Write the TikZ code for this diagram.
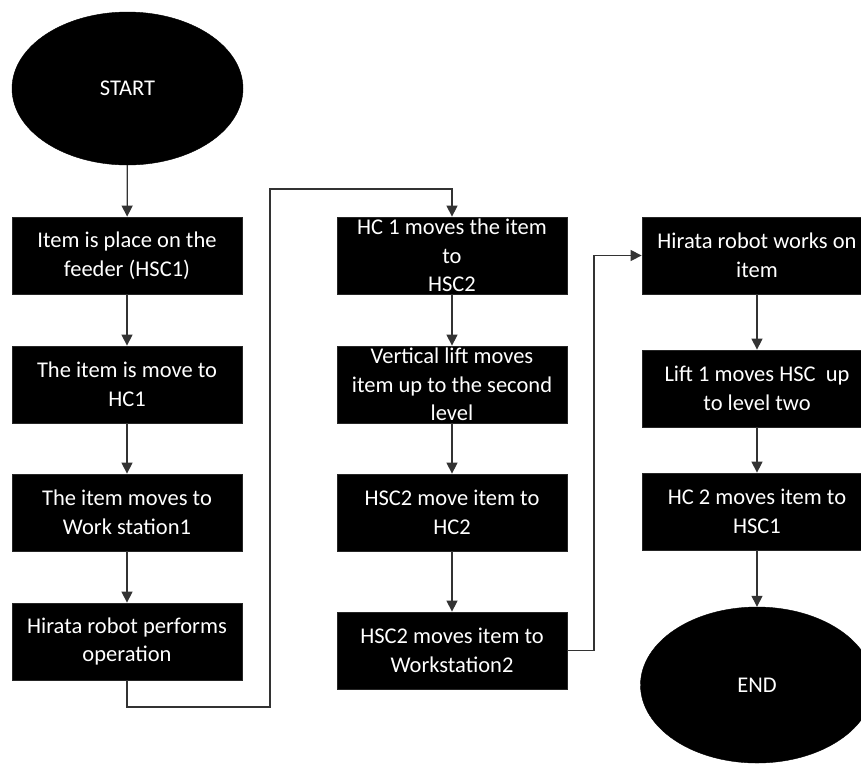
\documentclass[tikz,border=0pt]{standalone}
\usepackage{fontspec}
\setmainfont{Carlito}
\usetikzlibrary{shapes.geometric,arrows.meta}
\newcommand{\bxt}[1]{\parbox[c][77pt][c]{230pt}{\centering #1}}
\tikzset{
  flowbox/.style={rectangle, fill=black, draw=black!85, line width=0.8pt, inner sep=0pt, text=white},
  termnode/.style={ellipse, fill=black, draw=black, inner sep=0pt, text=white},
  conn/.style={draw=black!80, line width=1.3pt, -{Triangle[length=11pt,width=11pt]}},
  plainconn/.style={draw=black!80, line width=1.3pt}
}
\begin{document}
\begin{tikzpicture}[x=1pt,y=-1pt, font=\fontsize{22.5}{28.5}\selectfont]
\useasboundingbox (0,0) rectangle (861,764);
% left column
\node[termnode, minimum width=231pt, minimum height=153pt] (start) at (127.5,88.5) {START};
\node[flowbox] (b1) at (127,255.5) {\bxt{Item is place on the\\feeder (HSC1)}};
\node[flowbox] (b2) at (127,384.5) {\bxt{The item is move to\\HC1}};
\node[flowbox] (b3) at (127,512.5) {\bxt{The item moves to\\Work station1}};
\node[flowbox] (b4) at (127,641.5) {\bxt{Hirata robot performs\\operation}};
% middle column
\node[flowbox] (b5) at (452,255.5) {\bxt{HC 1 moves the item\\to\\HSC2}};
\node[flowbox] (b6) at (452,384.5) {\bxt{Vertical lift moves\\item up to the second\\level}};
\node[flowbox] (b7) at (452,512.5) {\bxt{HSC2 move item to\\HC2}};
\node[flowbox] (b8) at (452,650.5) {\bxt{HSC2 moves item to\\Workstation2}};
% right column
\node[flowbox] (b9) at (757,255.5) {\bxt{Hirata robot works on\\item}};
\node[flowbox] (b10) at (757,388.5) {\bxt{Lift 1 moves HSC\ \ up\\to level two}};
\node[flowbox] (b11) at (757,511.5) {\bxt{HC 2 moves item to\\HSC1}};
\node[termnode, minimum width=233pt, minimum height=156pt] (end) at (757,685) {END};
% bend points
\coordinate (p1) at (127,707);
\coordinate (p2) at (270,707);
\coordinate (p3) at (270,189);
\coordinate (p4) at (452,189);
\coordinate (q1) at (594,650.5);
\coordinate (q2) at (594,255.5);
% connectors
\draw[conn] (start) -- (b1);
\draw[conn] (b1) -- (b2);
\draw[conn] (b2) -- (b3);
\draw[conn] (b3) -- (b4);
\draw[conn] (b4.south) -- (p1) -- (p2) -- (p3) -- (p4) -- (b5.north);
\draw[conn] (b5) -- (b6);
\draw[conn] (b6) -- (b7);
\draw[conn] (b7) -- (b8);
\draw[conn] (b8.east) -- (q1) -- (q2) -- (b9.west);
\draw[conn] (b9) -- (b10);
\draw[conn] (b10) -- (b11);
\draw[conn] (b11) -- (end);
\end{tikzpicture}
\end{document}
